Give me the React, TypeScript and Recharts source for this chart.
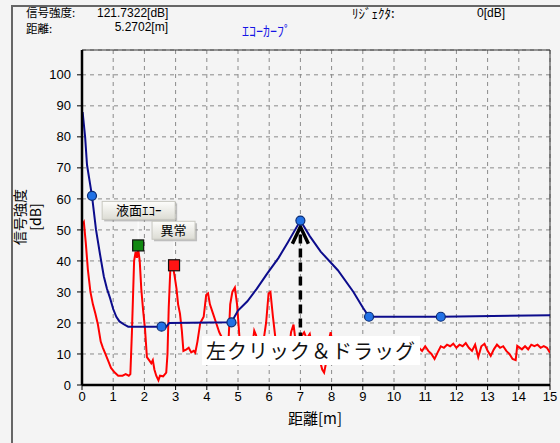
import {
  ComposedChart,
  Line,
  Scatter,
  XAxis,
  YAxis,
  CartesianGrid,
  ReferenceArea,
  ReferenceLine,
  ReferenceDot,
} from 'recharts';

const xTicks = [0, 1, 2, 3, 4, 5, 6, 7, 8, 9, 10, 11, 12, 13, 14, 15];
const yTicks = [0, 10, 20, 30, 40, 50, 60, 70, 80, 90, 100];

// 受信波形 (赤)
const echoSignal = [
  { x: 0.03, y: 52 }, { x: 0.06, y: 52.5 }, { x: 0.12, y: 46 }, { x: 0.19, y: 37 },
  { x: 0.27, y: 30 }, { x: 0.35, y: 26 }, { x: 0.43, y: 23 }, { x: 0.51, y: 19.5 },
  { x: 0.6, y: 14 }, { x: 0.67, y: 12 }, { x: 0.75, y: 10 }, { x: 0.85, y: 7.5 },
  { x: 0.93, y: 5.5 }, { x: 1.05, y: 4 }, { x: 1.16, y: 3 }, { x: 1.3, y: 3 },
  { x: 1.4, y: 3.5 }, { x: 1.5, y: 3 }, { x: 1.55, y: 3.5 }, { x: 1.6, y: 17 },
  { x: 1.67, y: 40 }, { x: 1.72, y: 43 }, { x: 1.76, y: 41 }, { x: 1.8, y: 44 },
  { x: 1.85, y: 40 }, { x: 1.9, y: 31 }, { x: 1.96, y: 24 }, { x: 2.02, y: 18 },
  { x: 2.08, y: 9 }, { x: 2.15, y: 8 }, { x: 2.22, y: 7 }, { x: 2.27, y: 8 },
  { x: 2.32, y: 5 }, { x: 2.38, y: 3 }, { x: 2.45, y: 1.5 }, { x: 2.5, y: 3 },
  { x: 2.6, y: 2.8 }, { x: 2.7, y: 4 }, { x: 2.74, y: 10 }, { x: 2.78, y: 25 },
  { x: 2.83, y: 37 }, { x: 2.87, y: 40 }, { x: 2.92, y: 38 }, { x: 2.97, y: 35 },
  { x: 3.03, y: 31 }, { x: 3.08, y: 26 }, { x: 3.14, y: 23 }, { x: 3.2, y: 17.5 },
  { x: 3.25, y: 11 }, { x: 3.35, y: 11.5 }, { x: 3.42, y: 12 }, { x: 3.5, y: 10.5 },
  { x: 3.58, y: 11 }, { x: 3.63, y: 10.4 }, { x: 3.7, y: 14 }, { x: 3.79, y: 20 },
  { x: 3.9, y: 22 }, { x: 3.98, y: 29 }, { x: 4.04, y: 29.5 }, { x: 4.1, y: 26 },
  { x: 4.2, y: 23 }, { x: 4.3, y: 20 }, { x: 4.4, y: 17 }, { x: 4.5, y: 15 },
  { x: 4.6, y: 10 }, { x: 4.7, y: 15 }, { x: 4.75, y: 26 }, { x: 4.82, y: 30 },
  { x: 4.9, y: 31.4 }, { x: 4.97, y: 26 }, { x: 5.05, y: 15 }, { x: 5.15, y: 10 },
  { x: 5.25, y: 12 }, { x: 5.35, y: 8 }, { x: 5.45, y: 12 }, { x: 5.52, y: 17.5 },
  { x: 5.58, y: 16 }, { x: 5.65, y: 11 }, { x: 5.8, y: 13 }, { x: 5.9, y: 20 },
  { x: 5.98, y: 29.5 }, { x: 6.04, y: 30 }, { x: 6.12, y: 22 }, { x: 6.2, y: 15 },
  { x: 6.3, y: 10 }, { x: 6.45, y: 12 }, { x: 6.6, y: 8 }, { x: 6.7, y: 17 },
  { x: 6.78, y: 19.5 }, { x: 6.86, y: 13 }, { x: 6.95, y: 10 }, { x: 7.05, y: 16 },
  { x: 7.12, y: 17 }, { x: 7.2, y: 15 }, { x: 7.3, y: 16.5 }, { x: 7.38, y: 12 },
  { x: 7.5, y: 10 }, { x: 7.62, y: 8 }, { x: 7.7, y: 5 }, { x: 7.76, y: 4 },
  { x: 7.82, y: 7 }, { x: 7.9, y: 14 }, { x: 7.97, y: 17 }, { x: 8.05, y: 12 },
  { x: 8.2, y: 10 }, { x: 8.4, y: 12 }, { x: 8.6, y: 9 }, { x: 8.8, y: 11 },
  { x: 9.0, y: 13 }, { x: 9.2, y: 10 }, { x: 9.4, y: 12 }, { x: 9.6, y: 11 },
  { x: 9.8, y: 13 }, { x: 10.0, y: 10 }, { x: 10.2, y: 12 }, { x: 10.4, y: 9 },
  { x: 10.6, y: 11 }, { x: 10.8, y: 12 }, { x: 10.9, y: 11 }, { x: 11.0, y: 12.5 },
  { x: 11.1, y: 11 }, { x: 11.2, y: 10 }, { x: 11.3, y: 8.4 }, { x: 11.4, y: 10.5 },
  { x: 11.5, y: 12.5 }, { x: 11.6, y: 12 }, { x: 11.7, y: 13 }, { x: 11.8, y: 12.5 },
  { x: 11.9, y: 13.3 }, { x: 12.0, y: 12 }, { x: 12.1, y: 13 }, { x: 12.2, y: 12.5 },
  { x: 12.3, y: 13.5 }, { x: 12.4, y: 12 }, { x: 12.5, y: 11 }, { x: 12.6, y: 13 },
  { x: 12.7, y: 9 }, { x: 12.8, y: 12.5 }, { x: 12.9, y: 13.3 }, { x: 13.0, y: 11 },
  { x: 13.1, y: 9.4 }, { x: 13.2, y: 11.5 }, { x: 13.3, y: 13 }, { x: 13.4, y: 12 },
  { x: 13.5, y: 12.5 }, { x: 13.6, y: 11 }, { x: 13.7, y: 10 }, { x: 13.8, y: 8.4 },
  { x: 13.9, y: 8 }, { x: 13.95, y: 12.6 }, { x: 14.1, y: 11.5 }, { x: 14.2, y: 12.5 },
  { x: 14.3, y: 11.5 }, { x: 14.4, y: 13 }, { x: 14.5, y: 12.5 }, { x: 14.6, y: 13 },
  { x: 14.7, y: 12 }, { x: 14.8, y: 12.5 }, { x: 14.9, y: 12 }, { x: 15.0, y: 10.4 },
];

// しきい値カーブ (青)
const thresholdCurve = [
  { x: 0.02, y: 88 }, { x: 0.1, y: 80 }, { x: 0.16, y: 71 }, { x: 0.32, y: 61 },
  { x: 0.45, y: 50 }, { x: 0.58, y: 42 }, { x: 0.7, y: 35 }, { x: 0.8, y: 31 },
  { x: 0.9, y: 28 }, { x: 1.0, y: 24.5 }, { x: 1.1, y: 22 }, { x: 1.2, y: 20.5 },
  { x: 1.35, y: 19.5 }, { x: 1.48, y: 18.8 }, { x: 2.55, y: 18.8 }, { x: 2.7, y: 18.8 },
  { x: 2.8, y: 20 }, { x: 4.79, y: 20.2 }, { x: 5.0, y: 24 }, { x: 5.3, y: 27 },
  { x: 5.6, y: 31 }, { x: 5.94, y: 36 }, { x: 6.3, y: 41 }, { x: 6.6, y: 46 },
  { x: 7.0, y: 53 }, { x: 7.3, y: 48 }, { x: 7.65, y: 43 }, { x: 8.2, y: 37 },
  { x: 8.7, y: 30 }, { x: 9.0, y: 25 }, { x: 9.2, y: 22 }, { x: 11.5, y: 22 },
  { x: 15, y: 22.5 },
];

const thresholdPoints = [
  { x: 0.32, y: 61 }, { x: 2.55, y: 18.8 }, { x: 4.79, y: 20.2 },
  { x: 7.0, y: 53 }, { x: 9.2, y: 22 }, { x: 11.5, y: 22 },
];

const echoMarker = [{ x: 1.8, y: 45, label: '液面ｴｺｰ' }];
const anomalyMarker = [{ x: 2.95, y: 38.6, label: '異常' }];

const dragArrow = { x: 7, from: 14, to: 51 };

const FONT = "'Liberation Sans', 'Noto Sans CJK JP', sans-serif";
const JP = "'Noto Sans CJK JP', sans-serif";

function BlueDot(props: any) {
  const { cx, cy } = props;
  return <circle cx={cx} cy={cy} r={4.5} fill="#2272e6" stroke="#0b2c74" strokeWidth={1.2} />;
}

function makeSquare(fill: string, boxW: number, dx: number) {
  return (props: any) => {
    const { cx, cy, payload } = props;
    const bx = cx + dx;
    const by = cy - 44;
    return (
      <g>
        <line x1={cx} y1={by + 18} x2={cx} y2={cy - 6} stroke="#ffffff" strokeWidth={1} />
        <rect x={bx + 2} y={by + 2} width={boxW} height={18} fill="#9a9a9a" opacity={0.6} />
        <rect x={bx} y={by} width={boxW} height={18} fill="url(#boxGrad)" stroke="#c8c8c0" />
        <text x={bx + boxW / 2} y={by + 14} textAnchor="middle" fontSize={13} fontFamily={JP} fill="#000">
          {payload.label}
        </text>
        <rect x={cx - 5.5} y={cy - 5.5} width={11} height={11} fill={fill} stroke="#111" strokeWidth={1.2} />
      </g>
    );
  };
}

function ArrowHead(props: any) {
  const { cx, cy } = props;
  return (
    <path
      d={`M ${cx - 8} ${cy + 17} L ${cx} ${cy} L ${cx + 8} ${cy + 17}`}
      fill="none"
      stroke="#000"
      strokeWidth={3.5}
    />
  );
}

const txt: React.CSSProperties = {
  position: 'absolute',
  fontFamily: FONT,
  fontSize: 12,
  lineHeight: '12px',
  color: '#000',
  whiteSpace: 'nowrap',
};

export default function App() {
  return (
    <div
      style={{
        position: 'absolute',
        left: 0,
        top: 0,
        width: 560,
        height: 443,
        background: '#f4f4f4',
        overflow: 'hidden',
      }}
    >
      <div style={{ position: 'absolute', left: 11, top: 5, width: 560, height: 1.5, background: '#666' }} />
      <div style={{ position: 'absolute', left: 11, top: 5, width: 1.5, height: 443, background: '#666' }} />

      <ComposedChart
        width={560}
        height={443}
        margin={{ top: 50, right: 10, left: 42, bottom: 28 }}
        style={{ position: 'absolute', left: 0, top: 0 }}
      >
        <defs>
          <linearGradient id="boxGrad" x1="0" y1="0" x2="0" y2="1">
            <stop offset="0%" stopColor="#fdfdfb" />
            <stop offset="100%" stopColor="#dcdcd4" />
          </linearGradient>
        </defs>
        <CartesianGrid stroke="#8a8a8a" strokeDasharray="4 4" />
        <ReferenceArea x1={0} x2={15} y1={0} y2={108} fill="none" stroke="#333" strokeWidth={1} />
        <XAxis
          dataKey="x"
          type="number"
          domain={[0, 15]}
          ticks={xTicks}
          allowDataOverflow
          stroke="#000"
          strokeWidth={2.5}
          tickSize={5}
          tick={{ fill: '#000', fontSize: 13, fontFamily: FONT }}
          tickLine={{ stroke: '#000', strokeWidth: 1 }}
          height={30}
        />
        <YAxis
          type="number"
          domain={[0, 108]}
          ticks={yTicks}
          allowDataOverflow
          stroke="#000"
          strokeWidth={2.5}
          tickSize={5}
          tickMargin={6}
          tick={{ fill: '#000', fontSize: 13, fontFamily: FONT }}
          tickLine={{ stroke: '#000', strokeWidth: 1 }}
          width={40}
        />
        <Line
          data={echoSignal}
          dataKey="y"
          type="linear"
          stroke="#ff0000"
          strokeWidth={2}
          dot={false}
          isAnimationActive={false}
        />
        <Line
          data={thresholdCurve}
          dataKey="y"
          type="linear"
          stroke="#0c0c8c"
          strokeWidth={2}
          dot={false}
          isAnimationActive={false}
        />
        <ReferenceLine
          segment={[
            { x: dragArrow.x, y: dragArrow.from },
            { x: dragArrow.x, y: dragArrow.to - 2 },
          ]}
          stroke="#000"
          strokeWidth={3.5}
          strokeDasharray="9 5"
          ifOverflow="visible"
        />
        <ReferenceDot x={dragArrow.x} y={dragArrow.to} r={0} shape={ArrowHead} ifOverflow="visible" />
        <Scatter data={thresholdPoints} dataKey="y" shape={BlueDot} isAnimationActive={false} />
        <Scatter data={echoMarker} dataKey="y" shape={makeSquare('#118811', 73, -36)} isAnimationActive={false} />
        <Scatter data={anomalyMarker} dataKey="y" shape={makeSquare('#ff1414', 43, -22)} isAnimationActive={false} />
      </ComposedChart>

      <div style={{ ...txt, left: 26, top: 6, fontFamily: JP, fontSize: 11.5 }}>信号強度:</div>
      <div style={{ ...txt, left: 97, top: 7 }}>121.7322[dB]</div>
      <div style={{ ...txt, left: 26, top: 22, fontFamily: JP, fontSize: 11.5 }}>距離:</div>
      <div style={{ ...txt, right: 560 - 168, top: 21 }}>5.2702[m]</div>
      <div style={{ ...txt, left: 352, top: 7, fontFamily: JP, fontSize: 13 }}>ﾘｼﾞｪｸﾀ:</div>
      <div style={{ ...txt, right: 560 - 505, top: 7 }}>0[dB]</div>
      <div style={{ ...txt, left: 242, top: 23, fontFamily: JP, fontSize: 14, lineHeight: '14px', color: '#1414e6' }}>
        ｴｺｰｶｰﾌﾟ
      </div>

      <div
        style={{
          ...txt,
          left: 27,
          top: 217,
          fontFamily: JP,
          fontSize: 14,
          lineHeight: '16px',
          textAlign: 'center',
          transform: 'translate(-50%, -50%) rotate(-90deg)',
        }}
      >
        信号強度
        <br />
        [dB]
      </div>
      <div style={{ ...txt, left: 288, top: 410, fontFamily: JP, fontSize: 15, lineHeight: '16px' }}>距離[m]</div>

      <div
        style={{
          position: 'absolute',
          left: 202,
          top: 336,
          width: 218,
          height: 29,
          background: '#ffffff',
          fontFamily: JP,
          fontSize: 20,
          lineHeight: '29px',
          letterSpacing: 1,
          paddingLeft: 4,
          boxSizing: 'border-box',
          color: '#111',
          whiteSpace: 'nowrap',
        }}
      >
        左クリック＆ドラッグ
      </div>
    </div>
  );
}
